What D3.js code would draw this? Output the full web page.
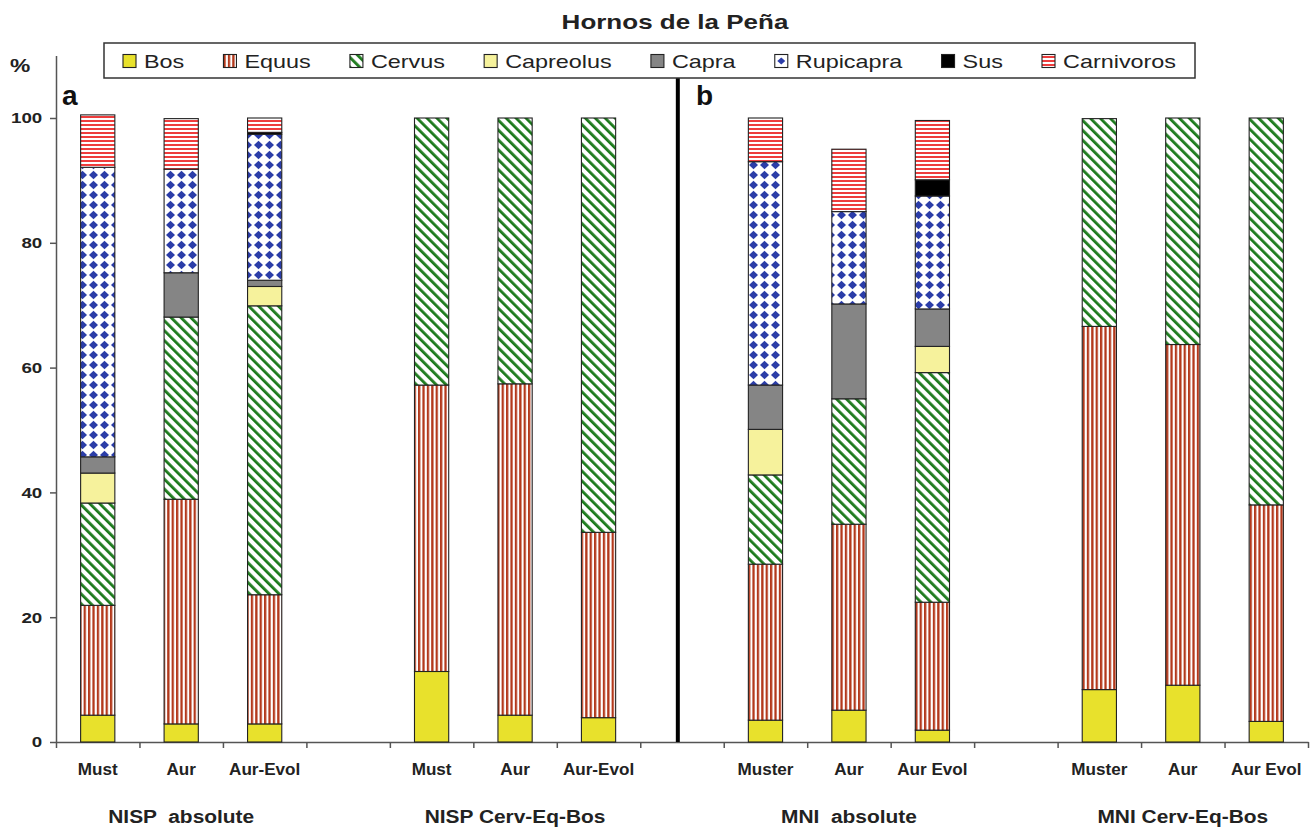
<!DOCTYPE html>
<meta charset="utf-8">
<style>
body { margin: 0; background: #fff; }
svg { font-family: Arial, "Liberation Sans", sans-serif; }
.axis path, .axis line { stroke: #555; stroke-width: 1.5; }
.seg { stroke: #222; stroke-width: 1.1; }
</style>
<body>
<svg width="1316" height="834"></svg>
<script src="https://d3js.org/d3.v7.min.js"></script>
<script>

// ---- data (percent per bar, bottom to top) ----
var groups     = ["NISP  absolute", "NISP Cerv-Eq-Bos", "MNI  absolute", "MNI Cerv-Eq-Bos"];
var categories = ["Must", "Aur", "Aur-Evol", "Must", "Aur", "Aur-Evol",
                  "Muster", "Aur", "Aur Evol", "Muster", "Aur", "Aur Evol"];
var species    = ["Bos", "Equus", "Cervus", "Capreolus", "Capra", "Rupicapra", "Sus", "Carnivoros"];

var bos        = [4.3, 2.9, 2.9, 11.3, 4.3, 3.9, 3.5, 5.1, 1.9, 8.4, 9.1, 3.3];
var equus      = [17.6, 36.0, 20.7, 45.9, 53.1, 29.7, 25.0, 29.8, 20.5, 58.2, 54.6, 34.7];
var cervus     = [16.4, 29.2, 46.3, 42.8, 42.6, 66.4, 14.3, 20.1, 36.8, 33.3, 36.3, 62.0];
var capreolus  = [4.8, 0, 3.1, 0, 0, 0, 7.3, 0, 4.2, 0, 0, 0];
var capra      = [2.6, 7.1, 1.0, 0, 0, 0, 7.1, 15.2, 6.0, 0, 0, 0];
var rupicapra  = [46.4, 16.6, 23.4, 0, 0, 0, 35.8, 14.8, 18.1, 0, 0, 0];
var sus        = [0, 0, 0.3, 0, 0, 0, 0, 0, 2.6, 0, 0, 0];
var carnivoros = [8.4, 8.1, 2.3, 0, 0, 0, 7.0, 10.0, 9.5, 0, 0, 0];

var yTicks = [0, 20, 40, 60, 80, 100];

var series = [bos, equus, cervus, capreolus, capra, rupicapra, sus, carnivoros];
var rows = categories.map(function(c, i) {
    var r = {slot: Math.floor(i / 3) * 4 + (i % 3), cat: c};
    species.forEach(function(s, k) { r[s] = series[k][i]; });
    return r;
});

var svg = d3.select("svg");
var defs = svg.append("defs");

// fills
var fills = {
    Bos: "#e8e12c", Capreolus: "#f6f29c", Capra: "#858585", Sus: "#000",
    Equus: "url(#p-equus)", Cervus: "url(#p-cervus)", Rupicapra: "url(#p-rupi)", Carnivoros: "url(#p-carn)"
};

var p = defs.append("pattern").attr("id", "p-equus").attr("patternUnits", "userSpaceOnUse")
    .attr("width", 4.4).attr("height", 10);
p.append("rect").attr("width", 4.4).attr("height", 10).attr("fill", "#fff");
p.append("rect").attr("width", 2.3).attr("height", 10).attr("fill", "#b3391c");

p = defs.append("pattern").attr("id", "p-cervus").attr("patternUnits", "userSpaceOnUse")
    .attr("width", 7).attr("height", 10).attr("patternTransform", "rotate(-45)");
p.append("rect").attr("width", 7).attr("height", 10).attr("fill", "#fff");
p.append("rect").attr("width", 2.8).attr("height", 10).attr("fill", "#1c7a1c");

p = defs.append("pattern").attr("id", "p-rupi").attr("patternUnits", "userSpaceOnUse")
    .attr("width", 11).attr("height", 10);
p.append("rect").attr("width", 11).attr("height", 10).attr("fill", "#fff");
p.append("path").attr("d", "M5.5,0.7L10,5L5.5,9.3L1,5Z").attr("fill", "#2b3da8");

p = defs.append("pattern").attr("id", "p-carn").attr("patternUnits", "userSpaceOnUse")
    .attr("width", 10).attr("height", 4);
p.append("rect").attr("width", 10).attr("height", 4).attr("fill", "#fff");
p.append("rect").attr("width", 10).attr("height", 2).attr("fill", "#ee3d3d");

// scales
var x0 = 56, x1 = 1308, yBase = 742, pxPerPct = 6.24;
var x = d3.scaleBand().domain(d3.range(15)).range([x0, x1]).paddingInner(0.59).paddingOuter(0.295);
var xSlot = d3.scaleLinear().domain([0, 15]).range([x0, x1]);
var y = d3.scaleLinear().domain([0, 110]).range([yBase, yBase - 110 * pxPerPct]);

// title
svg.append("text")
    .attr("transform", "translate(675,29) scale(1.3,1)")
    .attr("text-anchor", "middle")
    .style("font-size", "20px").style("font-weight", "bold").attr("fill", "#222")
    .text("Hornos de la Peña");

// axes
svg.append("g").attr("class", "axis")
    .attr("transform", "translate(" + x0 + ",0)")
    .call(d3.axisLeft(y).tickValues(yTicks).tickSize(6).tickSizeOuter(0).tickPadding(5))
    .call(function(g) {
        g.selectAll("text")
            .attr("transform", "scale(1.25,1)")
            .style("font-size", "15px").style("font-weight", "bold").attr("fill", "#222");
    });

svg.append("g").attr("class", "axis")
    .attr("transform", "translate(0," + yBase + ")")
    .call(d3.axisBottom(xSlot).tickValues(d3.range(16)).tickFormat("").tickSize(6).tickSizeOuter(0));

// stacked bars
var stack = d3.stack().keys(species)(rows);
var barG = svg.append("g");
stack.forEach(function(layer) {
    barG.append("g").selectAll("rect")
        .data(layer.filter(function(d) { return d[1] - d[0] > 0; }))
        .enter().append("rect")
        .attr("class", "seg")
        .attr("x", function(d) { return x(d.data.slot); })
        .attr("width", x.bandwidth())
        .attr("y", function(d) { return y(d[1]); })
        .attr("height", function(d) { return y(d[0]) - y(d[1]); })
        .attr("fill", fills[layer.key]);
});

// divider between panels a and b
var divX = xSlot(7.45);
svg.append("line")
    .attr("x1", divX).attr("x2", divX).attr("y1", 78).attr("y2", yBase)
    .attr("stroke", "#000").attr("stroke-width", 4);

// category labels
svg.append("g").selectAll("text")
    .data(rows).enter().append("text")
    .attr("transform", function(d) {
        return "translate(" + (x(d.slot) + x.bandwidth() / 2) + ",775) scale(1.07,1)";
    })
    .attr("text-anchor", "middle")
    .style("font-size", "16px").style("font-weight", "bold").attr("fill", "#222")
    .text(function(d) { return d.cat; });

// group labels
svg.append("g").selectAll("text")
    .data(groups).enter().append("text")
    .attr("transform", function(d, i) {
        var cx = (x(i * 4) + x(i * 4 + 2) + x.bandwidth()) / 2;
        return "translate(" + cx + ",823) scale(1.1,1)";
    })
    .attr("text-anchor", "middle")
    .style("white-space", "pre")
    .style("font-size", "19px").style("font-weight", "bold").attr("fill", "#222")
    .text(function(d) { return d; });

// % and panel letters
svg.append("text").attr("transform", "translate(10,72) scale(1.2,1)")
    .style("font-size", "19px").style("font-weight", "bold").attr("fill", "#222").text("%");
svg.append("text").attr("x", 62).attr("y", 105)
    .style("font-size", "28px").style("font-weight", "bold").attr("fill", "#111").text("a");
svg.append("text").attr("x", 696).attr("y", 105)
    .style("font-size", "28px").style("font-weight", "bold").attr("fill", "#111").text("b");

// legend
var legend = svg.append("g");
legend.append("rect")
    .attr("x", 104).attr("y", 43).attr("width", 1091).attr("height", 35)
    .attr("fill", "#fff").attr("stroke", "#333").attr("stroke-width", 1.5);

var items = legend.selectAll("g.item").data(species).enter().append("g").attr("class", "item");
items.append("rect")
    .attr("width", 13).attr("height", 13).attr("y", 54.5)
    .attr("fill", function(d) { return d === "Rupicapra" ? "#fff" : fills[d]; })
    .attr("stroke", "#222").attr("stroke-width", 1.1);
items.filter(function(d) { return d === "Rupicapra"; }).append("path")
    .attr("d", "M6.5,57.5L10.5,61L6.5,64.5L2.5,61Z").attr("fill", "#2b3da8");
var labels = items.append("text")
    .style("font-size", "18px").attr("fill", "#222")
    .text(function(d) { return d; });

var widths = [];
labels.each(function() { widths.push(this.getComputedTextLength() * 1.3); });
var startX = 123, lastX = 1042;
var gap = (lastX - startX - d3.sum(widths.slice(0, 7)) - 7 * 21) / 7;
var cx = startX;
items.each(function(d, i) {
    d3.select(this).attr("transform", "translate(" + cx + ",0)");
    d3.select(this).select("text").attr("transform", "translate(21,68) scale(1.3,1)");
    cx += 21 + widths[i] + gap;
});

</script>
